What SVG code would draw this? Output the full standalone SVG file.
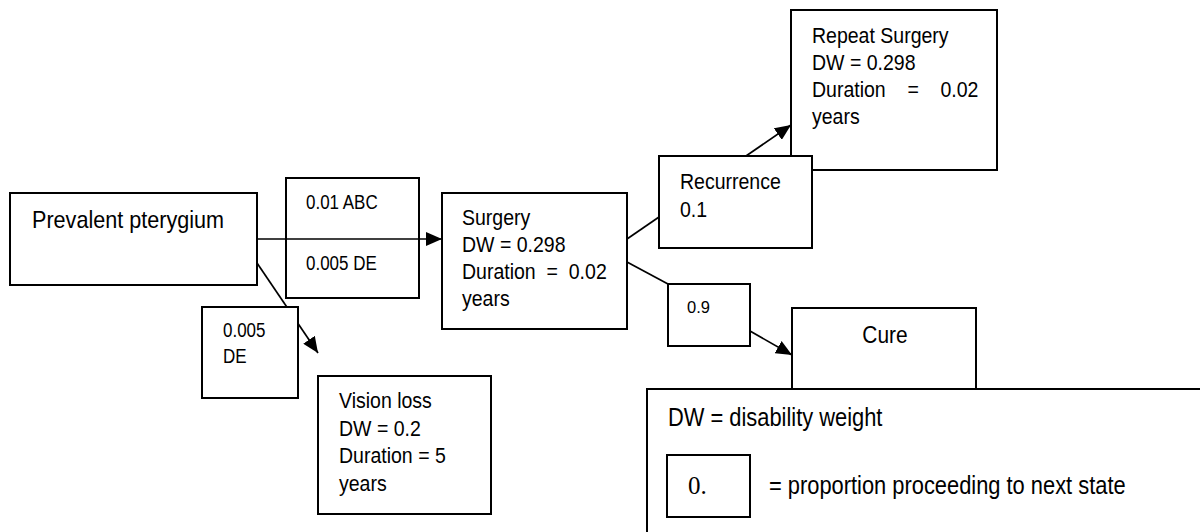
<svg xmlns="http://www.w3.org/2000/svg" width="1200" height="532" viewBox="0 0 1200 532">
<defs>
<style>
.box{fill:#fff;stroke:#000;stroke-width:2}
.open{fill:none;stroke:#000;stroke-width:2}
.ln{stroke:#000;stroke-width:1.7;fill:none}
text{font-family:"Liberation Sans",Arial,sans-serif;fill:#000;white-space:pre}
.st{font-size:22px}
.pr{font-size:19.5px}
.lg{font-size:25px}
</style>
<marker id="ah" markerUnits="userSpaceOnUse" markerWidth="18" markerHeight="14" refX="16" refY="7" orient="auto">
<path d="M0,0 L16,7 L0,14 Z" fill="#000"/>
</marker>
</defs>
<rect width="1200" height="532" fill="#fff"/>

<g id="prevalent">
<rect class="box" x="10" y="193" width="247" height="92"/>
<text transform="translate(32,228) scale(0.9,1)" style="font-size:24px">Prevalent pterygium</text>
</g>

<g id="repeat-surgery">
<rect class="box" x="791" y="10" width="206" height="160"/>
<text class="st" transform="translate(812,43) scale(0.887,1)">Repeat Surgery</text>
<text class="st" transform="translate(812,70) scale(0.887,1)">DW = 0.298</text>
<text class="st" transform="translate(812,97) scale(0.887,1)">Duration    =    0.02</text>
<text class="st" transform="translate(812,124) scale(0.887,1)">years</text>
</g>

<g id="cure">
<rect class="box" x="792" y="308" width="184" height="100"/>
<text transform="translate(885,343) scale(0.89,1)" text-anchor="middle" style="font-size:23.5px">Cure</text>
</g>

<g id="connectors">
<line class="ln" x1="257" y1="239" x2="442" y2="239" marker-end="url(#ah)"/>
<line class="ln" x1="257" y1="263" x2="318" y2="353" marker-end="url(#ah)"/>
<line class="ln" x1="627" y1="239" x2="659" y2="217"/>
<line class="ln" x1="746" y1="156" x2="791" y2="125" marker-end="url(#ah)"/>
<line class="ln" x1="627" y1="262" x2="668" y2="284"/>
<line class="ln" x1="750" y1="331" x2="792" y2="355" marker-end="url(#ah)"/>
</g>

<g id="prob-surgery">
<rect class="open" x="286" y="178" width="133" height="120"/>
<text class="pr" transform="translate(306,209) scale(0.87,1)">0.01 ABC</text>
<text class="pr" transform="translate(306,270) scale(0.87,1)">0.005 DE</text>
</g>

<g id="prob-vision">
<rect class="box" x="202" y="307" width="96" height="91"/>
<text class="pr" transform="translate(223,337) scale(0.87,1)">0.005</text>
<text class="pr" transform="translate(223,363) scale(0.87,1)">DE</text>
</g>

<g id="surgery">
<rect class="box" x="442" y="193" width="185" height="136"/>
<text class="st" transform="translate(462,225) scale(0.887,1)">Surgery</text>
<text class="st" transform="translate(462,252) scale(0.887,1)">DW = 0.298</text>
<text class="st" transform="translate(462,279) scale(0.887,1)">Duration  =  0.02</text>
<text class="st" transform="translate(462,306) scale(0.887,1)">years</text>
</g>

<g id="recurrence">
<rect class="box" x="659" y="156" width="153" height="92"/>
<text class="st" transform="translate(680,189) scale(0.887,1)">Recurrence</text>
<text class="st" transform="translate(680,217) scale(0.887,1)">0.1</text>
</g>

<g id="prob-cure">
<rect class="box" x="668" y="284" width="82" height="62"/>
<text x="687" y="313" style="font-size:16.5px">0.9</text>
</g>

<g id="vision-loss">
<rect class="box" x="318" y="376" width="173" height="138"/>
<text class="st" transform="translate(339,408) scale(0.887,1)">Vision loss</text>
<text class="st" transform="translate(339,436) scale(0.887,1)">DW = 0.2</text>
<text class="st" transform="translate(339,463) scale(0.887,1)">Duration = 5</text>
<text class="st" transform="translate(339,491) scale(0.887,1)">years</text>
</g>

<g id="legend">
<rect class="box" x="647" y="389" width="600" height="200"/>
<text class="lg" transform="translate(668,426) scale(0.875,1)">DW = disability weight</text>
<rect class="box" x="667" y="455" width="83" height="62"/>
<text x="688" y="494" style="font-family:'Liberation Serif','Times New Roman',serif;font-size:25px">0.</text>
<text class="lg" transform="translate(769,494) scale(0.875,1)">= proportion proceeding to next state</text>
</g>
</svg>
